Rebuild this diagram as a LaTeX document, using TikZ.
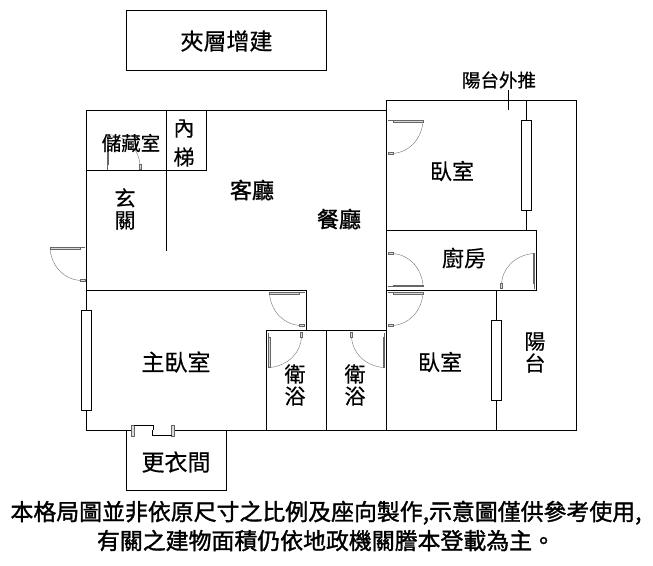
\documentclass[tikz,border=0pt]{standalone}
\usepackage{fontspec}
\setmainfont[FakeBold=0.4]{Noto Sans CJK TC}
\newfontfamily\heavycjk[FakeBold=1.4]{Noto Sans CJK TC}
\usepackage{tikz}
\usetikzlibrary{calc}
\usetikzlibrary{positioning}

\tikzset{
	wall/.style={line width=1.1pt,black},
	jamb/.style={line width=0.4pt,black!60},
	leaf/.style={line width=0.4pt,black!60,fill=black!15},
	swing/.style={line width=0.4pt,black!55},
	roomlbl/.style={inner sep=0pt,align=center,font=\fontsize{21}{22}\selectfont},
	notelbl/.style={inner sep=0pt,align=center,font=\fontsize{22.9}{29}\heavycjk}
}

% hinge corner, direction of the leaf, direction of the opening
\newcommand{\swingdoor}[3]{
	\coordinate (h) at (#1);
	\coordinate (u) at (#2);
	\coordinate (v) at (#3);
	\draw[jamb] (h)--($(h)+5*(u)$)--($(h)+5*(u)+2*(v)$);
	\draw[leaf] ($(h)+5*(u)$)--($(h)+35*(u)$)--($(h)+35*(u)+1.5*(v)$)--($(h)+5*(u)+1.5*(v)$)--cycle;
	\draw[jamb,fill=black!15] ($(h)+32*(v)$)--($(h)+34*(v)$)--($(h)+34*(v)+5*(u)$)--($(h)+32*(v)+5*(u)$)--cycle;
	\draw[swing] ($(h)+35*(u)+1.5*(v)$) .. controls ($(h)+33*(u)+20*(v)$) and ($(h)+20*(u)+32*(v)$) .. ($(h)+5*(u)+33*(v)$);
}

\begin{document}
\begin{tikzpicture}[x=1pt,y=-1pt]
	\useasboundingbox (0,0) rectangle (653,565);
	% doors first, the walls go over them
	\swingdoor{388,120.5}{1,0}{0,1}
	\swingdoor{388,286.5}{1,0}{0,-1}
	\swingdoor{388,292.5}{1,0}{0,1}
	\swingdoor{534.5,288.5}{0,-1}{-1,0}
	\swingdoor{304.5,292.5}{-1,0}{0,1}
	\swingdoor{268.5,332.5}{0,1}{1,0}
	\swingdoor{384.5,332.5}{0,1}{-1,0}
	\swingdoor{107,169.5}{0,-1}{1,0}
	\swingdoor{85,247.5}{-1,0}{0,1}
	% outer walls
	\draw[wall] (386.3,230.3)--(386.3,100.3)--(576.3,100.3)--(576.3,430.3)--(174,430.3);
	\draw[wall] (131,430.3)--(86.3,430.3)--(86.3,110.3)--(386.3,110.3);
	% inner walls
	\draw[wall] (86.3,170.3)--(206.3,170.3)--(206.3,110.3);
	\draw[wall] (166.6,110.3)--(166.6,250.6);
	\draw[wall] (86.3,290.3)--(306.3,290.3)--(306.3,330.3);
	\draw[wall] (266.3,430.3)--(266.3,330.3)--(386.3,330.3);
	\draw[wall] (326.3,330.3)--(326.3,430.3);
	\draw[wall] (386.3,230.3)--(386.3,430.3);
	\draw[wall] (386.3,230.3)--(536.3,230.3)--(536.3,290.3)--(386.3,290.3);
	\draw[wall] (526.3,100.3)--(526.3,230.3);
	\draw[wall] (496.3,290.3)--(496.3,430.3);
	% windows
	\draw[line width=0.9pt,fill=white] (521.3,120.3) rectangle (531.3,210.3);
	\draw[line width=0.9pt,fill=white] (491.3,320.3) rectangle (501.3,400.3);
	\draw[line width=0.9pt,fill=white] (81.3,310.3) rectangle (91.3,410.3);
	% sliding door
	\draw[leaf] (131.5,425) rectangle (134,436);
	\draw[leaf] (171.5,425) rectangle (174,436);
	\draw[line width=0.9pt] (134,425)--(153.5,425)--(153.5,430.3);
	\draw[line width=0.9pt] (152,430.3)--(152,435.5)--(171.5,435.5);
	% small rooms
	\draw[wall] (126.3,430.3)--(126.3,490.3)--(226.3,490.3)--(226.3,430.3);
	\draw[wall] (126.3,10.3) rectangle (326.3,70.3);
	\coordinate (push top) at (508.3,90);
	\coordinate (push end) at (508.3,110);
	\draw[line width=0.6pt] (push top)--(push end);
	% labels
	\node[roomlbl,font=\fontsize{23}{24}\selectfont] (loft) at (226.5,41) {夾層增建};
	\node[roomlbl,font=\fontsize{18.5}{20}\selectfont] (push) at (499,80) {陽台外推};
	\node[roomlbl,font=\fontsize{19.5}{20}\selectfont] (store) at (131,143) {儲藏室};
	\node[roomlbl,font=\fontsize{21}{29}\selectfont] (stair) at (184,143) {內\\梯};
	\node[roomlbl,font=\fontsize{21}{22}\selectfont] (entry) at (125,209) {玄\\關};
	\node[roomlbl,font=\fontsize{22}{22}\heavycjk] (living) at (252,190) {客廳};
	\node[roomlbl,font=\fontsize{22}{22}\heavycjk] (dining) at (339,219) {餐廳};
	\node[roomlbl,font=\fontsize{22}{22}\selectfont] (bed one) at (452,171) {臥室};
	\node[roomlbl,font=\fontsize{22}{22}\selectfont] (kitchen) at (464,258) {廚房};
	\node[roomlbl,font=\fontsize{22}{22}\selectfont] (bed two) at (440,362) {臥室};
	\node[roomlbl] (balcony) at (535,352.5) {陽\\台};
	\node[roomlbl,font=\fontsize{23}{24}\selectfont] (master) at (176,362) {主臥室};
	\node[roomlbl] (bath one) at (295,385) {衛\\浴};
	\node[roomlbl] (bath two) at (355,385) {衛\\浴};
	\node[roomlbl,font=\fontsize{23}{24}\selectfont] (closet) at (176,462) {更衣間};
	\node[notelbl] (note) at (326,526) {本格局圖並非依原尺寸之比例及座向製作,示意圖僅供參考使用,\\有關之建物面積仍依地政機關謄本登載為主。};
\end{tikzpicture}
\end{document}
